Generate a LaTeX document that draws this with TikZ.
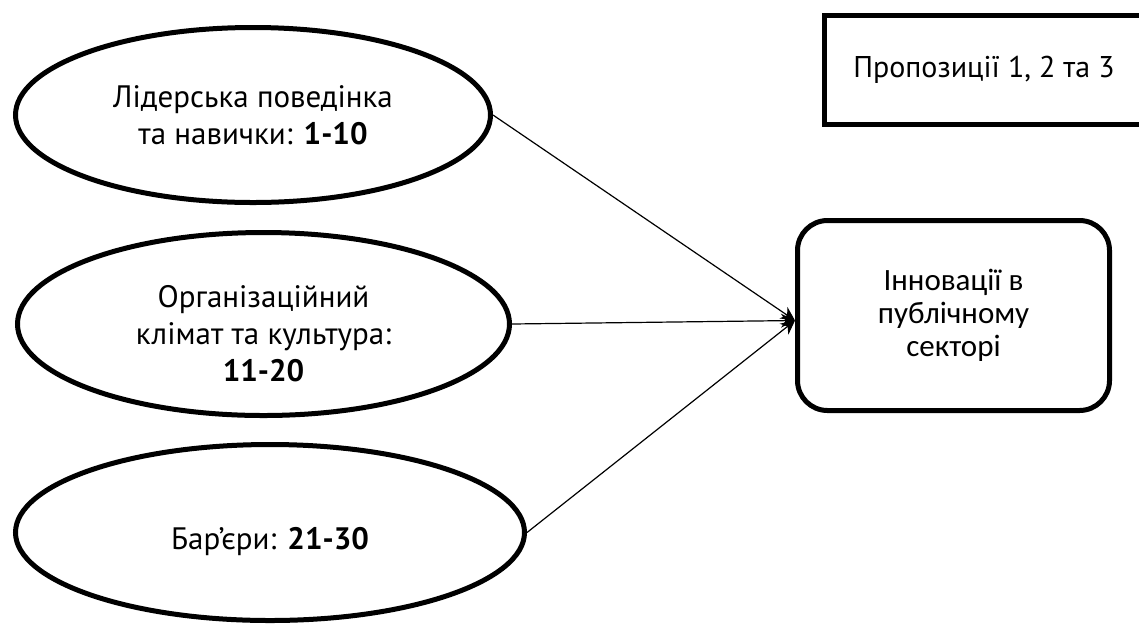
\documentclass[tikz,border=0pt]{standalone}
\usepackage{fontspec}
\setmainfont{PT Sans}
\newfontfamily\boxfont{Carlito}
\usetikzlibrary{arrows.meta,shapes.geometric}

\begin{document}
\begin{tikzpicture}[x=1pt,y=-1pt,-{Stealth[length=14pt,width=14pt]},line width=1.2pt]
        \tikzstyle{every node}=[font=\fontsize{31}{37}\selectfont, align=center, inner sep=0pt]
        \tikzstyle{factor}=[ellipse, draw, line width=5pt]
        \useasboundingbox (0,0) rectangle (1139,625);

        \node[factor, minimum width=475pt, minimum height=175pt] (L) at (253,115)   {Лідерська поведінка\\та навички: \textbf{1-10}};
        \node[factor, minimum width=492pt, minimum height=183pt] (K) at (263.5,324) {\rule{0pt}{42pt}Організаційний\\клімат та культура:\\\textbf{11-20}};
        \node[factor, minimum width=509pt, minimum height=176pt] (B) at (270,532.5) {\rule{0pt}{40pt}Бар’єри: \textbf{21-30}};

        \node[draw, line width=5pt, rounded corners=30pt, minimum width=312pt, minimum height=190pt,
              font=\boxfont\fontsize{31}{33}\selectfont] (I) at (953.5,315.5) {Інновації в\\публічному\\секторі};
        \node[draw, line width=5pt, minimum width=319pt, minimum height=109pt, font=\fontsize{30}{36}\selectfont] (P) at (984,70) {Пропозиції 1, 2 та 3};

        \path (L.east) edge ([yshift=-5pt]I.west)
              (K.east) edge ([yshift=-5pt]I.west)
              (B.east) edge ([yshift=-5pt]I.west);
\end{tikzpicture}
\end{document}
